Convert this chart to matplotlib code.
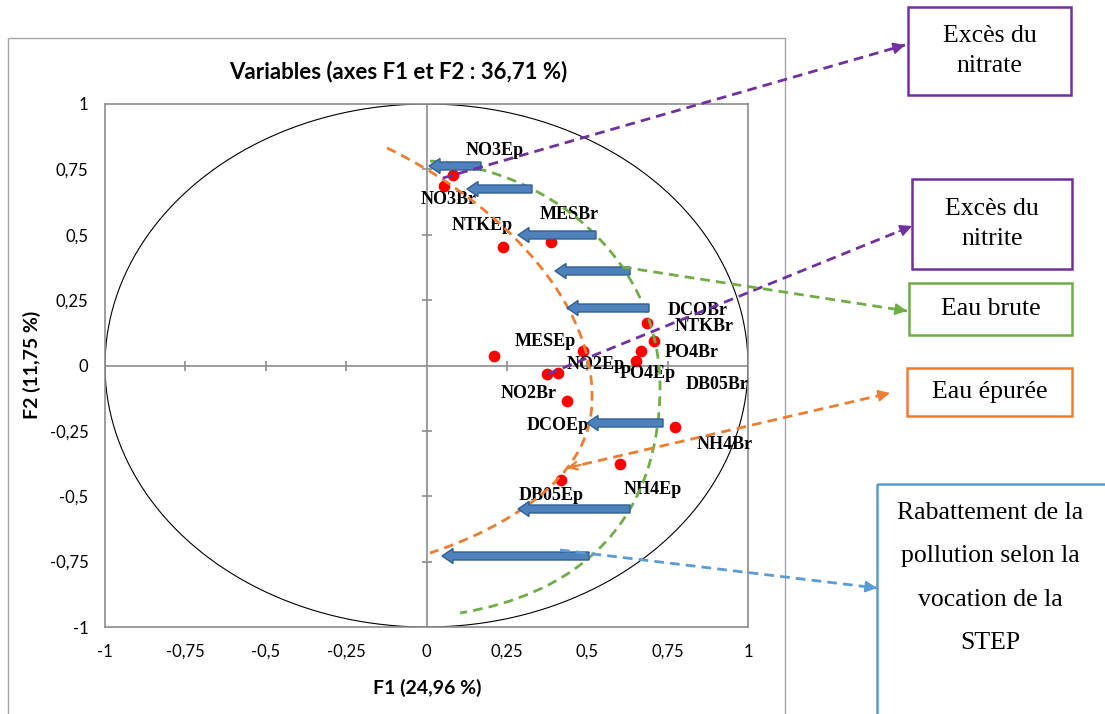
import matplotlib.pyplot as plt
import matplotlib.patches as patches
from matplotlib.path import Path
import numpy as np

# variable coordinates on F1 / F2
names = ['NO3Ep', 'NO3Br', 'NTKEp', 'MESBr', 'DCOBr', 'NTKBr', 'PO4Br', 'PO4Ep',
         'DB05Br', 'MESEp', 'NO2Ep', 'NO2Br', 'DCOEp', 'NH4Br', 'NH4Ep', 'DB05Ep']
f1 = [0.081, 0.053, 0.237, 0.386, 0.685, 0.707, 0.667, 0.651,
      0.209, 0.486, 0.408, 0.374, 0.436, 0.773, 0.601, 0.417]
f2 = [0.727, 0.688, 0.455, 0.474, 0.161, 0.092, 0.054, 0.019,
      0.038, 0.054, -0.027, -0.034, -0.134, -0.237, -0.375, -0.436]
# where the labels were put (data units)
label_pos = [(0.212, 0.822), (0.068, 0.635), (0.174, 0.535), (0.445, 0.577),
             (0.843, 0.210), (0.865, 0.149), (0.824, 0.050), (0.687, -0.031),
             (0.905, -0.073), (0.370, 0.092), (0.526, 0.004), (0.317, -0.107),
             (0.407, -0.229), (0.927, -0.302), (0.703, -0.474), (0.389, -0.497)]

ticks = [-1, -0.75, -0.5, -0.25, 0, 0.25, 0.5, 0.75, 1]
tick_labels = ['-1', '-0,75', '-0,5', '-0,25', '0', '0,25', '0,5', '0,75', '1']

title = 'Variables (axes F1 et F2 : 36,71 %)'
xlabel = 'F1 (24,96 %)'
ylabel = 'F2 (11,75 %)'

# hand drawn overlay (figure pixels, y downwards)
block_arrows = [(481, 429, 166), (532, 467, 189), (596, 518, 235), (630, 555, 271),
                (649, 567, 308), (663, 587, 423), (630, 518, 509), (589, 442, 556)]
purple = '#7030a0'
green = '#70ad47'
orange = '#ed7d31'
blue = '#5b9bd5'
links = [((443, 178), (905, 45), purple),
         ((548, 374), (912, 226), purple),
         ((622, 267), (907, 311), green),
         ((567, 468), (890, 393), orange),
         ((560, 550), (877, 588), blue)]
curves = [
    ([(387, 148), (480, 192), (595, 290), (592, 400), (592, 480), (500, 530), (430, 553)], orange),
    ([(430, 161), (560, 170), (662, 270), (660, 390), (658, 530), (570, 595), (460, 613)], green),
]
boxes = [((908, 7, 163, 88), purple, 'Excès du\nnitrate'),
         ((912, 179, 160, 90), purple, 'Excès du\nnitrite'),
         ((909, 283, 163, 52), green, 'Eau brute'),
         ((907, 368, 165, 48), orange, 'Eau épurée')]

W, H = 1105, 714
fig = plt.figure(figsize=(W / 100, H / 100), dpi=100)

# outer chart frame
fig.patches.append(patches.Rectangle((8 / W, -0.05), 777 / W, 1.05 - 38 / H,
                                     transform=fig.transFigure, fill=False,
                                     ec='#a6a6a6', lw=1))

ax = fig.add_axes([105 / W, 1 - 627 / H, 643 / W, 523 / H])
ax.set_xlim(-1, 1)
ax.set_ylim(-1, 1)
for s in ax.spines.values():
    s.set_color('#8c8c8c')
    s.set_linewidth(1.2)
ax.set_xticks(ticks)
ax.set_xticklabels(tick_labels)
ax.set_yticks(ticks)
ax.set_yticklabels(tick_labels)
ax.tick_params(length=0, labelsize=12, pad=12)
for lab in ax.get_xticklabels() + ax.get_yticklabels():
    lab.set_family('Lato')

ax.axhline(0, color='#8c8c8c', lw=1.2)
ax.axvline(0, color='#8c8c8c', lw=1.2)
inner = [t for t in ticks if abs(t) < 1 and t != 0]
ax.plot(inner, [0] * len(inner), ls='none', marker='|', ms=7, mew=1.2, color='#8c8c8c')
ax.plot([0] * len(inner), inner, ls='none', marker='_', ms=7, mew=1.2, color='#8c8c8c')

th = np.linspace(0, 2 * np.pi, 400)
ax.plot(np.cos(th), np.sin(th), color='black', lw=0.8)

ax.scatter(f1, f2, s=55, color='red', zorder=5)
for n, (lx, ly) in zip(names, label_pos):
    ax.text(lx, ly, n, ha='center', va='center', fontsize=13, fontweight='bold',
            family='Liberation Serif', zorder=6)

fig.text(398 / W, 1 - 72 / H, title, ha='center', va='center', fontsize=16,
         fontweight='bold', family='Lato')
fig.text(427 / W, 1 - 688 / H, xlabel, ha='center', va='center', fontsize=14,
         fontweight='bold', family='Lato')
fig.text(32 / W, 1 - 365 / H, ylabel, ha='center', va='center', fontsize=14,
         fontweight='bold', family='Lato', rotation=90)

# overlay in pixel units
ov = fig.add_axes([0, 0, 1, 1], zorder=10)
ov.set_xlim(0, W)
ov.set_ylim(H, 0)
ov.axis('off')
ov.patch.set_visible(False)

dash = (0, (3.5, 2.2))
for pts, c in curves:
    codes = [Path.MOVETO] + [Path.CURVE4] * 6
    ov.add_patch(patches.PathPatch(Path(pts, codes), fill=False, ec=c, lw=2, ls=dash))

for (x0, y0), (x1, y1), c in links:
    ov.plot([x0, x1], [y0, y1], color=c, lw=2, ls=dash)
    d = np.array([x1 - x0, y1 - y0], float)
    d /= np.hypot(*d)
    ov.annotate('', xy=(x1, y1), xytext=(x1 - 14 * d[0], y1 - 14 * d[1]),
                arrowprops=dict(arrowstyle='-|>', color=c, lw=1.2,
                                mutation_scale=18, shrinkA=0, shrinkB=0))
    if c == orange:
        ov.annotate('', xy=(x0, y0), xytext=(x0 + 14 * d[0], y0 + 14 * d[1]),
                    arrowprops=dict(arrowstyle='->', color=c, lw=1.6,
                                    mutation_scale=14, shrinkA=0, shrinkB=0))

for tail, tip, y in block_arrows:
    ov.add_patch(patches.FancyArrow(tail, y, tip - tail, 0, width=8, head_width=15,
                                    head_length=11, length_includes_head=True,
                                    fc='#4f81bd', ec='#2f5f94', lw=1))

for (x, y, w, h), c, txt in boxes:
    ov.add_patch(patches.Rectangle((x, y), w, h, fill=False, ec=c, lw=1.8))
    ov.text(x + w / 2, y + h / 2, txt, ha='center', va='center', fontsize=18.5,
            family='Liberation Serif', linespacing=1.5)

ov.add_patch(patches.Rectangle((877, 484), 260, 260, fill=False, ec=blue, lw=1.8))
ov.text(990, 578, 'Rabattement de la\npollution selon la\nvocation de la\nSTEP',
        ha='center', va='center', fontsize=18.5, family='Liberation Serif',
        linespacing=2.25)

fig.savefig('out.png', dpi=100)
